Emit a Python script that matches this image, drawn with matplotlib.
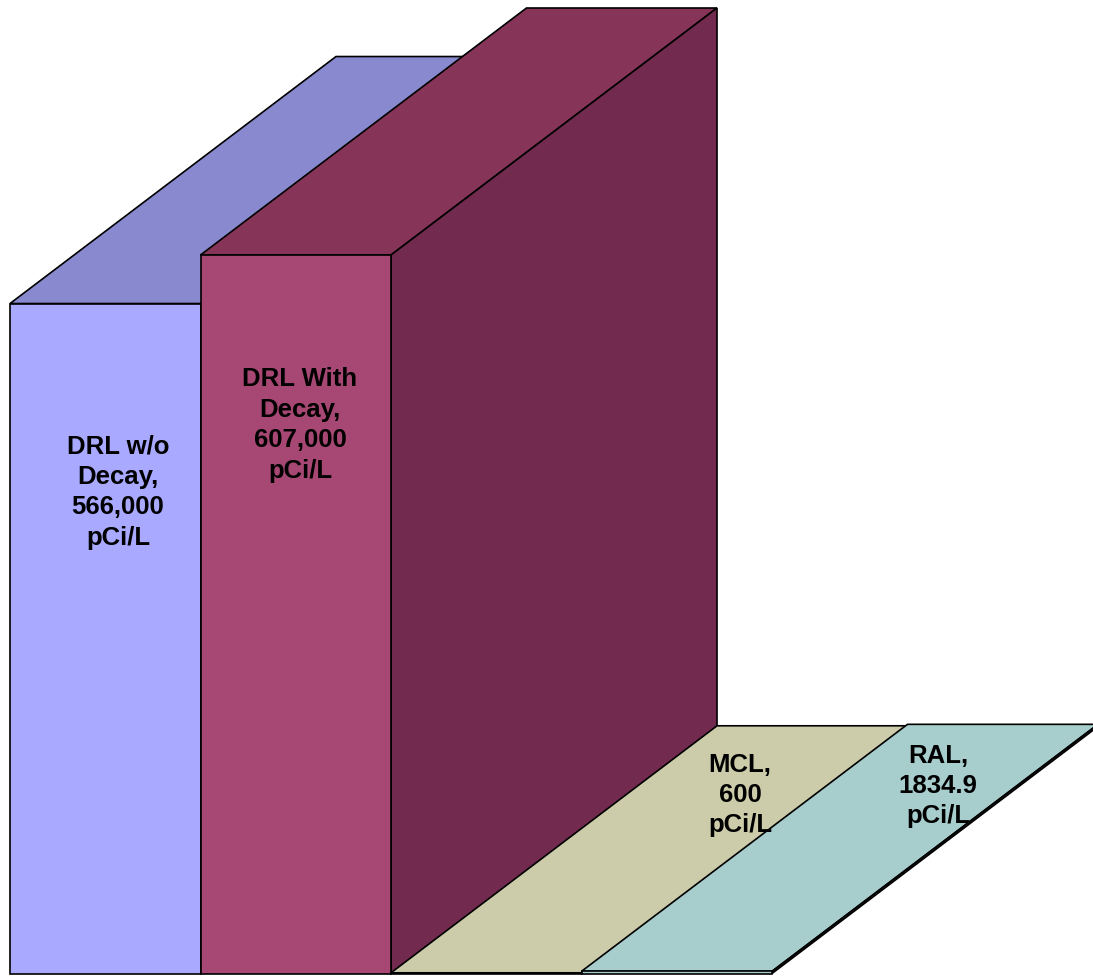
import matplotlib
matplotlib.use("Agg")
import matplotlib.pyplot as plt
from matplotlib.patches import Polygon

# ---- data ----
categories = ["DRL w/o Decay", "DRL With Decay", "MCL", "RAL"]
values = [566000, 607000, 600, 1834.9]
value_text = ["566,000", "607,000", "600", "1834.9"]
label_lines = [
    "DRL w/o\nDecay,\n566,000\npCi/L",
    "DRL With\nDecay,\n607,000\npCi/L",
    "MCL,\n600\npCi/L",
    "RAL,\n1834.9\npCi/L",
]
front_colors = ["#A9A9FF", "#A64873", "#CCCCAA", "#A8CDCD"]
top_colors = ["#8989CF", "#873459", "#CCCCAA", "#A8CDCD"]
side_colors = ["#7070B0", "#722B4F", "#A8A88C", "#8AAAAA"]

# ---- layout (oblique 3-D projection) ----
W_PX, H_PX = 1093, 976
slot_px = 190.5
left_px = 10
base_px = 973.5
px_per_val = 718.5 / 607000.0
depth_dx_px, depth_dy_px = 326, 247

fig = plt.figure(figsize=(W_PX / 100, H_PX / 100), dpi=100)
ax = fig.add_axes([0, 0, 1, 1])
ax.set_xlim(-left_px / slot_px, (W_PX - left_px) / slot_px)
ax.set_ylim(-(H_PX - base_px) / px_per_val, base_px / px_per_val)
ax.axis("off")

ddx = depth_dx_px / slot_px
ddy = depth_dy_px / px_per_val
bw = 1.0

for i, v in enumerate(values):
    x0, x1 = i, i + bw
    top = Polygon([(x0, v), (x1, v), (x1 + ddx, v + ddy), (x0 + ddx, v + ddy)],
                  closed=True, facecolor=top_colors[i], edgecolor="black", lw=1.2,
                  joinstyle="miter")
    side = Polygon([(x1, 0), (x1 + ddx, ddy), (x1 + ddx, v + ddy), (x1, v)],
                   closed=True, facecolor=side_colors[i], edgecolor="black", lw=1.2,
                   joinstyle="miter")
    front = Polygon([(x0, 0), (x1, 0), (x1, v), (x0, v)],
                    closed=True, facecolor=front_colors[i], edgecolor="black", lw=1.2,
                    joinstyle="miter")
    for p in (top, side, front):
        ax.add_patch(p)

# label centres (pixels in the reference)
label_px = [(118, 492), (300, 425), (740, 795), (938, 786)]
for (px, py), txt in zip(label_px, label_lines):
    xd = (px - left_px) / slot_px
    yd = (base_px - py) / px_per_val
    ax.text(xd, yd, txt, ha="center", va="center", multialignment="center",
            fontsize=18.5, fontweight="bold", family=["Liberation Sans", "DejaVu Sans"],
            color="black", linespacing=1.34)

fig.savefig("out.png", dpi=100)
